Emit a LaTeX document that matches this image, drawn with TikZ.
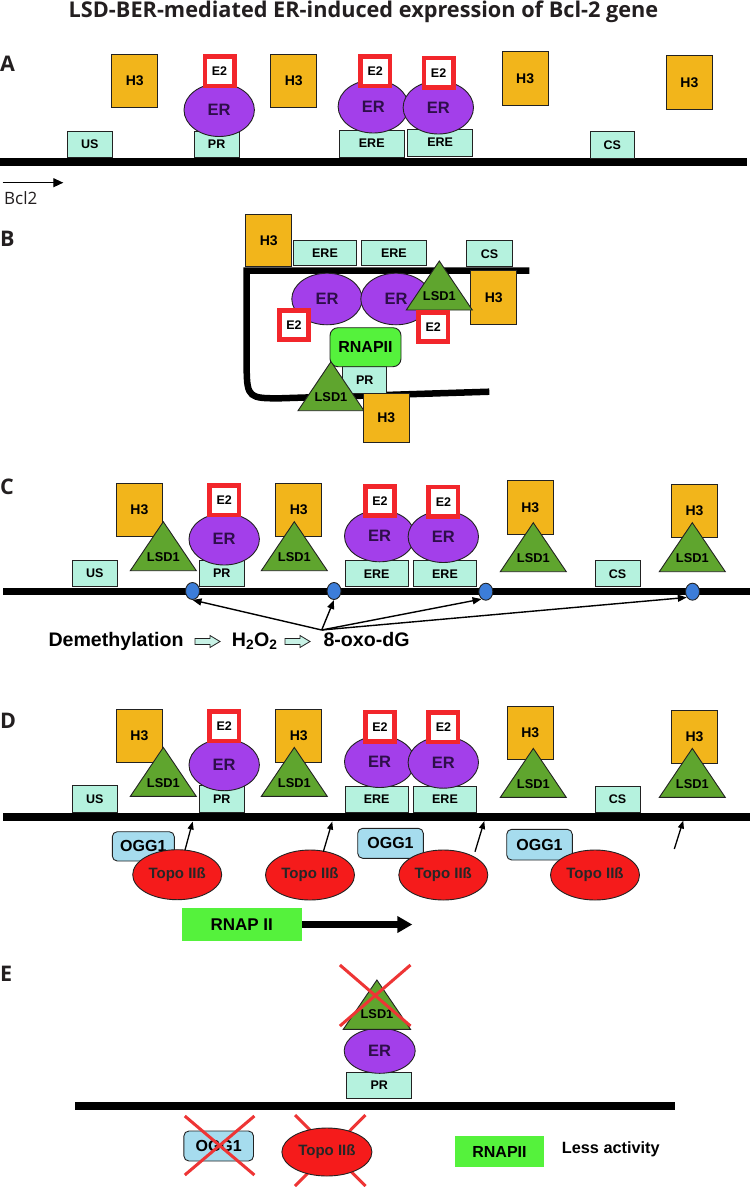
\documentclass[tikz,border=0pt]{standalone}
\usepackage{fontspec}
\setmainfont{Liberation Sans}
\newfontfamily\osans{Open Sans}
\usetikzlibrary{shapes.geometric,arrows.meta}
\definecolor{h3c}{HTML}{F2B51B}
\definecolor{mintc}{HTML}{B5F2DE}
\definecolor{erc}{HTML}{A33FEA}
\definecolor{ertxt}{HTML}{2E0E4A}
\definecolor{e2c}{HTML}{F2262B}
\definecolor{lsdc}{HTML}{5FA52E}
\definecolor{olc}{HTML}{222222}
\definecolor{lesc}{HTML}{3C7DD9}
\definecolor{oggc}{HTML}{A6DCEE}
\definecolor{topoc}{HTML}{F51B1B}
\definecolor{rnapc}{HTML}{55F23C}
\definecolor{xc}{HTML}{EE3535}
\definecolor{hollowc}{HTML}{C8F2E6}
\definecolor{titc}{HTML}{231F20}
\newcommand\mybox[7]{\node[#2, minimum width={(#5)-(#3)}, minimum height={(#6)-(#4)}] (#1) at ({((#3)+(#5))/2},{((#4)+(#6))/2}) {#7};}
\newcommand\mylsd[3]{%
  \draw[lsdtri] ({#2-33},{#3}) -- ({#2},{#3-49}) -- ({#2+33},{#3}) -- cycle;
  \node[lsdtxt] (#1) at ({#2},{#3-13.5}) {LSD1};}
\newcommand\myhollow[2]{%
  \draw[olc, line width=0.8pt, fill=hollowc] ({#1},{#2-3}) -- ({#1+15},{#2-3}) -- ({#1+15},{#2-6}) -- ({#1+25},{#2}) -- ({#1+15},{#2+6}) -- ({#1+15},{#2+3}) -- ({#1},{#2+3}) -- cycle;}
\newcommand\chromrow[2]{%
  \draw[dna] (3.3,{591.5+#2}) -- (750,{591.5+#2});
  \mybox{#1us}{mint}{72.3}{560+#2}{117.3}{586.7+#2}{US}
  \mybox{#1pr}{mint}{199.3}{560+#2}{244.3}{586.7+#2}{PR}
  \mybox{#1ereA}{mint}{345}{560.7+#2}{408.3}{586.7+#2}{ERE}
  \mybox{#1ereB}{mint}{413.3}{560.7+#2}{476.7}{586.7+#2}{ERE}
  \mybox{#1cs}{mint}{595}{560.7+#2}{640}{586.7+#2}{CS}
  \mybox{#1hA}{hist}{116}{483.3+#2}{162.7}{536.7+#2}{H3}
  \mybox{#1hB}{hist}{275.7}{483.3+#2}{321.7}{536.7+#2}{H3}
  \mybox{#1hC}{hist}{507.3}{480.7+#2}{553.3}{534+#2}{H3}
  \mybox{#1hD}{hist}{671.7}{484.3+#2}{717.3}{537.7+#2}{H3}
  \mylsd{#1lA}{163.3}{570.7+#2}
  \mylsd{#1lB}{294.3}{570.7+#2}
  \mylsd{#1lC}{533.3}{571.7+#2}
  \mylsd{#1lD}{692.3}{571.7+#2}
  \node[er] (#1erA) at (224.2,{539.2+#2}) {ER};
  \node[er] (#1erB) at (379.7,{536+#2}) {ER};
  \node[er] (#1erC) at (443.3,{536.7+#2}) {ER};
  \node[etwo] (#1eA) at (224.2,{500.4+#2}) {E2};
  \node[etwo] (#1eB) at (380,{501+#2}) {E2};
  \node[etwo] (#1eC) at (443.4,{501.7+#2}) {E2};
}
\begin{document}
\begin{tikzpicture}[x=1pt,y=-1pt,
  ol/.style={draw=olc, line width=0.9pt},
  mint/.style={ol, fill=mintc, inner sep=0pt, font=\bfseries\fontsize{12.5}{13}\selectfont},
  hist/.style={ol, fill=h3c, inner sep=0pt, font=\bfseries\fontsize{14}{15}\selectfont},
  er/.style={ol, fill=erc, ellipse, inner sep=0pt, minimum width=70.4, minimum height=51.6, text=ertxt, font=\bfseries\fontsize{16.5}{17}\selectfont},
  etwo/.style={draw=e2c, line width=4.6pt, fill=white, inner sep=0pt, minimum size=29.4, font=\bfseries\fontsize{12.5}{13}\selectfont},
  lsdtri/.style={ol, fill=lsdc},
  lsdtxt/.style={inner sep=0pt, font=\bfseries\fontsize{12.8}{13}\selectfont},
  dna/.style={line width=7.8pt},
  lesion/.style={ol, fill=lesc, ellipse, inner sep=0pt, minimum width=14, minimum height=17},
  ogg/.style={ol, fill=oggc, rounded corners=5pt, inner sep=0pt, font=\bfseries\fontsize{16}{17}\selectfont},
  topo/.style={ol, fill=topoc, ellipse, inner sep=0pt, minimum width=89, minimum height=50, text=black!85, font=\bfseries\fontsize{15}{16}\selectfont},
  rnap/.style={fill=rnapc, inner sep=0pt, font=\bfseries\fontsize{17}{18}\selectfont},
  xmark/.style={draw=xc, line width=3pt},
  smallarr/.style={line width=1.4pt, -{Triangle[length=9pt,width=7pt]}},
  panel/.style={inner sep=0pt, anchor=base west, text=titc, font=\osans\bfseries\fontsize{21.5}{22}\selectfont},
  txt/.style={inner sep=0pt, anchor=base west, font=\bfseries\fontsize{19.6}{20}\selectfont}]
\useasboundingbox (0,0) rectangle (750,1187);
\fill[white] (0,0) rectangle (750,1187);

% title
\node[inner sep=0pt, anchor=base, text=titc, font=\osans\bfseries\fontsize{21.7}{22}\selectfont] (title) at (363.5,17.6) {LSD-BER-mediated ER-induced expression of Bcl-2 gene};

% ---------------- A
\node[panel] (la) at (0,71.5) {A};
\draw[dna] (0,162) -- (746.7,162);
\mybox{aus}{mint}{67.3}{131}{112.3}{157.7}{US}
\mybox{apr}{mint}{194.3}{131}{239}{157.7}{PR}
\mybox{aereA}{mint}{339.5}{130}{404}{157}{ERE}
\mybox{aereB}{mint}{407.7}{129.3}{472.7}{156}{ERE}
\mybox{acs}{mint}{590}{131.7}{634.7}{158.3}{CS}
\mybox{ahA}{hist}{111.7}{54.3}{157.7}{107.7}{H3}
\mybox{ahB}{hist}{270.7}{54.3}{316.7}{107.7}{H3}
\mybox{ahC}{hist}{502}{51.7}{548.3}{105}{H3}
\mybox{ahD}{hist}{666}{55.7}{712.7}{109}{H3}
\node[er, minimum height=53] (aerA) at (219.2,110) {ER};
\node[er, minimum height=53] (aerB) at (373.3,106.5) {ER};
\node[er, minimum height=53] (aerC) at (438.3,107.5) {ER};
\node[etwo] (aeA) at (219.5,71.3) {E2};
\node[etwo] (aeB) at (375.2,71.3) {E2};
\node[etwo] (aeC) at (438.6,72.7) {E2};
\coordinate (bclS) at (2.7,182.7);
\coordinate (bclE) at (63.3,182.7);
\draw[line width=1.2pt, -{Triangle[length=10pt,width=9pt]}] (bclS) -- (bclE);
\node[inner sep=0pt, anchor=base west, text=titc, font=\osans\fontsize{17}{18}\selectfont] (bcl) at (4,204) {Bcl2};

% ---------------- B
\node[panel] (lbb) at (0,246) {B};
\draw[line width=6.5pt] (529.3,270.7) -- (246.7,270.7) -- (246.7,368) .. controls (246.7,398.3) and (250,398.3) .. (280,398.3) -- (489.3,391.7);
\mybox{bhA}{hist}{245.7}{214.3}{291.7}{266.7}{H3}
\mybox{bereA}{mint}{293.3}{240}{356.7}{265.7}{ERE}
\mybox{bereB}{mint}{361.7}{240}{426}{265.7}{ERE}
\mybox{bcs}{mint}{466.7}{240.7}{512.3}{266.7}{CS}
\mybox{bhB}{hist}{470.7}{270.7}{516.7}{324}{H3}
\node[er] (berA) at (327,299) {ER};
\node[er] (berB) at (396,299) {ER};
\mylsd{blA}{439.3}{310}
\node[etwo] (beA) at (294,325) {E2};
\node[etwo] (beB) at (433.3,327) {E2};
\mybox{bpr}{mint}{342.7}{366.7}{386.7}{393.3}{PR}
\node[ol, fill=rnapc, rounded corners=8pt, inner sep=0pt, minimum width=71, minimum height=39, font=\bfseries\fontsize{16}{17}\selectfont] (brnap) at (365.5,347.2) {RNAPII};
\mylsd{blB}{331}{410.7}
\mybox{bhC}{hist}{363.3}{393.3}{409.3}{442}{H3}

% ---------------- C
\node[panel] (lc) at (0,494.5) {C};
\chromrow{c}{0}
\node[lesion] (cdA) at (192.5,591) {};
\node[lesion] (cdB) at (334,591) {};
\node[lesion] (cdC) at (485.8,591.7) {};
\node[lesion] (cdD) at (692.5,591.7) {};
\node[txt] (demeth) at (48.3,646.7) {Demethylation};
\myhollow{195}{641.5}
\node[txt] (hoo) at (231.7,646.7) {H\textsubscript{2}O\textsubscript{2}};
\myhollow{285}{641.5}
\node[txt] (oxo) at (323.3,646.7) {8-oxo-dG};
\coordinate (src) at (321.7,630);
\draw[smallarr] (src) -- (cdA.south);
\draw[smallarr] (src) -- (cdB.south);
\draw[smallarr] (src) -- (cdC.240);
\draw[smallarr] (src) -- (cdD.225);

% ---------------- D
\node[panel] (ld) at (0,728) {D};
\chromrow{d}{225.7}
\mybox{doA}{ogg}{112.3}{831.7}{174.3}{861}{OGG1}
\mybox{doB}{ogg}{357.7}{828.3}{423.3}{858.3}{OGG1}
\mybox{doC}{ogg}{506.7}{829.3}{572.3}{860}{OGG1}
\node[topo] (dtA) at (177.2,874.7) {Topo IIß};
\node[topo] (dtB) at (310,875) {Topo IIß};
\node[topo] (dtC) at (443.3,875) {Topo IIß};
\node[topo] (dtD) at (595,875) {Topo IIß};
\coordinate (daAs) at (185,850);   \coordinate (daAe) at (192.7,821.5);
\coordinate (daBs) at (323.3,851.7); \coordinate (daBe) at (332.3,821.5);
\coordinate (daCs) at (475,851.7); \coordinate (daCe) at (484.3,821);
\coordinate (daDs) at (674.3,849); \coordinate (daDe) at (683.3,820.5);
\draw[line width=1.3pt, -{Triangle[length=8pt,width=6pt]}] (daAs) -- (daAe);
\draw[line width=1.3pt, -{Triangle[length=8pt,width=6pt]}] (daBs) -- (daBe);
\draw[line width=1.3pt, -{Triangle[length=8pt,width=6pt]}] (daCs) -- (daCe);
\draw[line width=1.3pt, -{Triangle[length=8pt,width=6pt]}] (daDs) -- (daDe);
\mybox{drnap}{rnap}{181.7}{908.3}{301.7}{940.7}{RNAP II}
\coordinate (dend) at (412.3,924.5);
\draw[line width=6.5pt, -{Triangle[length=15pt,width=16pt]}] (drnap.east) -- (dend);

% ---------------- E
\node[panel] (le) at (0,981.5) {E};
\draw[dna] (75.4,1105.6) -- (674.5,1105.6);
\mybox{epr}{mint}{346.6}{1072.3}{411.9}{1098.3}{PR}
\node[er, minimum width=71, minimum height=45] (eer) at (379.7,1050.8) {ER};
\draw[lsdtri] (343.3,1029.3) -- (376.9,980) -- (410.5,1029.3) -- cycle;
\node[lsdtxt] (elsd) at (377,1014) {LSD1};
\coordinate (exA1) at (339.9,965); \coordinate (exA2) at (410.5,1026);
\coordinate (exB1) at (410.5,965); \coordinate (exB2) at (339.9,1026);
\draw[xmark] (exA1) -- (exA2);
\draw[xmark] (exB1) -- (exB2);
\mybox{eogg}{ogg}{183.9}{1131}{253.5}{1161}{OGG1}
\coordinate (eoA1) at (184.8,1116); \coordinate (eoA2) at (254.4,1175);
\coordinate (eoB1) at (254.4,1116); \coordinate (eoB2) at (184.8,1175);
\draw[xmark] (eoA1) -- (eoA2);
\draw[xmark] (eoB1) -- (eoB2);
\coordinate (etA1) at (295,1115); \coordinate (etA2) at (365.5,1186);
\coordinate (etB1) at (365.5,1115); \coordinate (etB2) at (295,1186);
\draw[xmark] (etA1) -- (etA2);
\draw[xmark] (etB1) -- (etB2);
\node[topo, minimum width=90, minimum height=48] (etopo) at (326.9,1152) {Topo IIß};
\mybox{ernap}{rnap}{455.1}{1135.7}{543.9}{1167.3}{\fontsize{16}{17}\selectfont RNAPII}
\node[inner sep=0pt, anchor=base west, font=\bfseries\fontsize{16.3}{17}\selectfont] (less) at (561.7,1153.5) {Less activity};
\end{tikzpicture}
\end{document}
